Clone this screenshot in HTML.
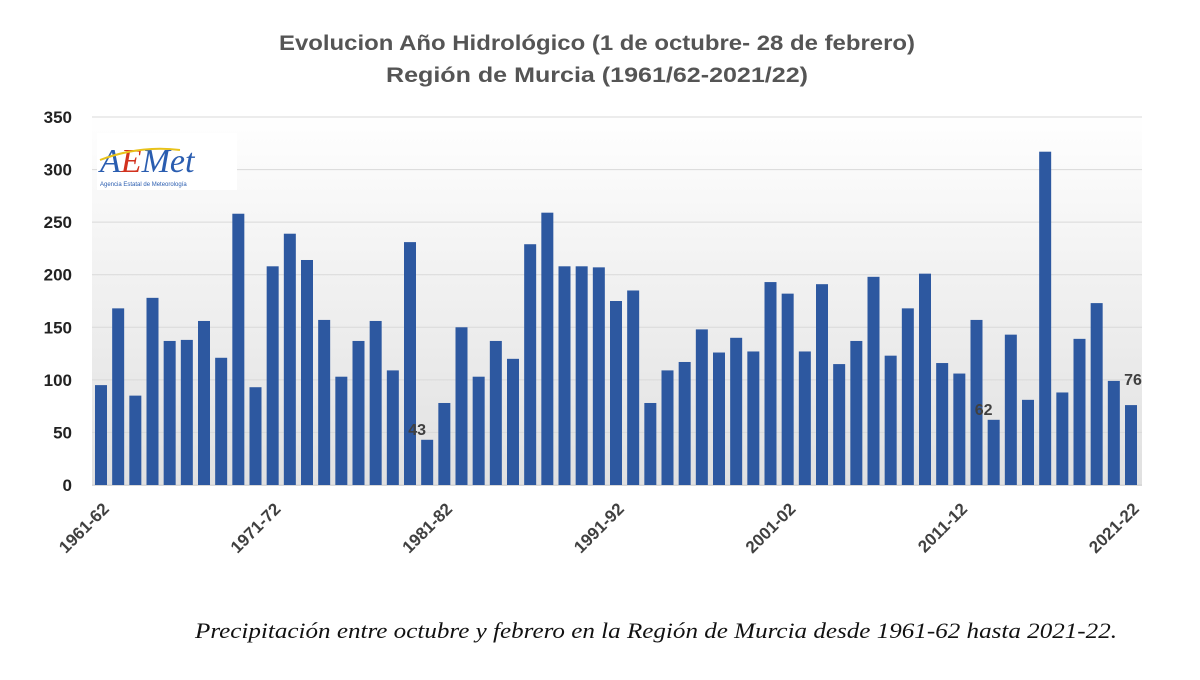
<!DOCTYPE html>
<html><head><meta charset="utf-8"><style>
body{margin:0;background:#fff;width:1200px;height:675px;overflow:hidden;font-family:"Liberation Sans",sans-serif}
</style></head><body>
<svg width="1200" height="675">
<defs><linearGradient id="bg" x1="0" y1="0" x2="0" y2="1"><stop offset="0" stop-color="#ffffff"/><stop offset="1" stop-color="#e0e0e0"/></linearGradient></defs>
<text x="597" y="50" text-anchor="middle" font-size="21" font-weight="bold" fill="#555" textLength="636" lengthAdjust="spacingAndGlyphs">Evolucion Año Hidrológico (1 de octubre- 28 de febrero)</text>
<text x="597" y="82" text-anchor="middle" font-size="21" font-weight="bold" fill="#555" textLength="422" lengthAdjust="spacingAndGlyphs">Región de Murcia (1961/62-2021/22)</text>
<rect x="92" y="112" width="1050" height="374" fill="url(#bg)"/>
<g id="grid"></g><g id="yticks"></g><g id="bars"></g><g id="xticks"></g><g id="labels"></g>
<g>
<rect x="97" y="133" width="140" height="57" fill="#fff"/>
<text x="100" y="172" font-size="34" font-style="italic" font-family="Liberation Serif,serif" fill="#2a5db0">A<tspan fill="#d2321e">E</tspan>Met</text>
<path d="M100 160 Q140 145 180 150" stroke="#e8c21a" stroke-width="2" fill="none"/>
<text x="100" y="186" font-size="6" fill="#2a5db0">Agencia Estatal de Meteorología</text>
</g>
<text x="195" y="638" font-size="22" font-style="italic" font-family="Liberation Serif,serif" fill="#111" textLength="922" lengthAdjust="spacingAndGlyphs">Precipitación entre octubre y febrero en la Región de Murcia desde 1961-62 hasta 2021-22.</text>
</svg>
<script>
const values=[95,168,85,178,137,138,156,121,258,93,208,239,214,157,103,137,156,109,231,43,78,150,103,137,120,229,259,208,208,207,175,185,78,109,117,148,126,140,127,193,182,127,191,115,137,198,123,168,201,116,106,157,62,143,81,317,88,139,173,99,76];
const yTicks=[0,50,100,150,200,250,300,350];
const xTickLabels=["1961-62","1971-72","1981-82","1991-92","2001-02","2011-12","2021-22"];
const xTickIndex=[0,10,20,30,40,50,60];
const annotated=[19,52,60];
const NS="http://www.w3.org/2000/svg";
const y0=485,ppu=368/350,x0=101,step=(1131-101)/60,bw=12;
const ys=v=>y0-v*ppu, xs=i=>x0+i*step;
function mk(tag,attrs,parent,txt){const e=document.createElementNS(NS,tag);for(const k in attrs)e.setAttribute(k,attrs[k]);if(txt!==undefined)e.textContent=txt;document.getElementById(parent).appendChild(e);return e;}
yTicks.forEach(t=>{
 const g=mk('line',{x1:92,x2:1142,y1:ys(t),y2:ys(t),stroke:t===0?'#d0d0d0':'#d9d9d9','stroke-width':1},'grid');
 
 
 const l=mk('text',{x:72,y:ys(t)+6,'text-anchor':'end','font-size':17,'font-weight':'bold',fill:'#222'},'yticks',t);
 
 
});
values.forEach((v,i)=>{
 const r=mk('rect',{x:xs(i)-bw/2,y:ys(v),width:bw,height:v*ppu,fill:'#2d58a0'},'bars');
 
 
});
xTickLabels.forEach((s,k)=>{
 const x=xs(xTickIndex[k])+9,y=510;
 const t=mk('text',{x:x,y:y,'text-anchor':'end','font-size':17,'font-weight':'bold',fill:'#404040',transform:`rotate(-45 ${x} ${y})`},'xticks',s);
 
 
});
annotated.forEach(i=>{
 const v=values[i];
 const last=i===values.length-1;
 const x=last?xs(i)+2:xs(i)-10, y=last?ys(values[i-1])+4:ys(v)-5;
 const t=mk('text',{x:x,y:y,'text-anchor':'middle','font-size':16,'font-weight':'bold',fill:'#404040'},'labels',String(v));
 
 
});
</script>
</body></html>
